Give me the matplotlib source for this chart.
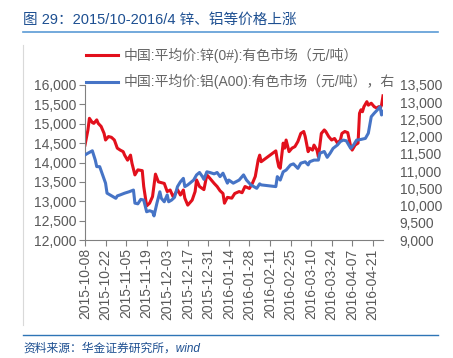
import matplotlib
matplotlib.use('Agg')
import matplotlib.pyplot as plt
import matplotlib.ticker as mticker
from matplotlib.lines import Line2D
import pandas as pd

# fontes: latim em Liberation Sans, chinês em Noto Sans CJK SC
plt.rcParams['font.family'] = ['Liberation Sans', 'Noto Sans CJK SC']

title = '图 29：2015/10-2016/4 锌、铝等价格上涨'
source = '资料来源：华金证券研究所，wind'
zinc_label = '中国:平均价:锌(0#):有色市场（元/吨）'
alu_label = '中国:平均价:铝(A00):有色市场（元/吨），右'

start_date = '2015-10-08'
end_date = '2016-04-28'
tick_dates = ['2015-10-08', '2015-10-22', '2015-11-05', '2015-11-19', '2015-12-03',
              '2015-12-17', '2015-12-31', '2016-01-14', '2016-01-28', '2016-02-11',
              '2016-02-25', '2016-03-10', '2016-03-24', '2016-04-07', '2016-04-21']

# dias contados a partir de start_date
zinc_days = [0, 2, 3, 5, 6, 8, 9, 11, 13, 14, 16, 18, 20, 22, 24, 26, 27, 29, 31, 32,
             34, 36, 39, 40, 42, 44, 46, 48, 50, 52, 54, 56, 58, 60, 61, 63, 65, 67, 68, 70,
             73, 75, 76, 78, 81, 83, 84, 86, 88, 90, 92, 94, 95, 97, 100, 102, 105, 107, 109, 112,
             114, 116, 118, 119, 120, 130, 131, 132, 133, 135, 136, 137, 139, 141, 143, 145, 147, 149, 150, 152,
             153, 155, 156, 158, 159, 161, 163, 164, 166, 168, 170, 172, 174, 175, 177, 179, 181, 182, 184, 186,
             187, 188, 189, 190, 192, 193, 195, 197, 199, 200, 201, 202, 203]
zinc = [14450, 14840, 15140, 15030, 15010, 15100, 15010, 14930, 14750, 14580, 14670, 14650, 14580, 14370, 14320, 14280, 14190, 14060, 14190, 13980,
        13680, 13810, 13790, 13380, 12880, 12950, 13120, 13700, 13500, 13480, 13460, 13250, 13290, 13120, 13160, 13300, 13160, 13290, 13080, 12900,
        13030, 13250, 13550, 13380, 13300, 13680, 13640, 13550, 13460, 13380, 13270, 13200, 12950, 13100, 13080, 13200, 13250, 13220, 13380, 13330,
        13460, 13640, 14070, 14190, 14020, 14300, 14070, 13890, 13850, 14500, 14370, 14580, 14280, 14370, 14410, 14540, 14750, 14800, 14670, 14280,
        14370, 14320, 14450, 14320, 14150, 14750, 14840, 14800, 14670, 14580, 14620, 14500, 14580, 14750, 14800, 14770, 14410, 14320, 14450, 14500,
        15270, 15360, 15310, 15440, 15570, 15480, 15530, 15440, 15400, 15440, 15400, 15480, 15720]

alu_days = [0, 2, 5, 7, 8, 10, 12, 14, 15, 17, 19, 21, 22, 24, 27, 30, 33, 34, 36, 38,
            40, 42, 44, 46, 47, 49, 51, 52, 54, 56, 57, 59, 61, 63, 65, 67, 68, 70, 74, 76,
            78, 80, 81, 83, 85, 88, 90, 92, 94, 97, 98, 101, 105, 108, 110, 113, 115, 117, 119, 120,
            130, 131, 133, 135, 137, 140, 142, 145, 147, 150, 152, 153, 156, 159, 160, 163, 165, 167, 169, 172,
            174, 176, 178, 181, 183, 185, 188, 191, 193, 195, 197, 199, 201, 202, 203]
alu = [11470, 11520, 11590, 11320, 11130, 11130, 10890, 10650, 10360, 10310, 10260, 10210, 10280, 10310, 10360, 10400, 10450, 10070, 10050, 10180,
       10160, 9820, 9850, 9820, 9700, 10070, 10400, 10210, 10110, 10310, 10110, 10160, 10240, 10550, 10690, 10790, 10550, 10600, 10740, 10890,
       10960, 10840, 10760, 10980, 10960, 10920, 10960, 10840, 10940, 10650, 10740, 10650, 10740, 10890, 10740, 10600, 10550, 10500, 10630, 10600,
       10550, 10840, 10740, 10980, 11030, 11180, 11210, 11080, 11230, 11270, 11180, 11270, 11320, 11320, 11520, 11570, 11400, 11520, 11660, 11760,
       11860, 11900, 11880, 11660, 11760, 11900, 11920, 11950, 12100, 12580, 12680, 12770, 12870, 12630, 12730]

t0 = pd.Timestamp(start_date)
zinc_x = t0 + pd.to_timedelta(zinc_days, unit='D')
alu_x = t0 + pd.to_timedelta(alu_days, unit='D')
ticks = pd.to_datetime(tick_dates)

W, H = 453, 358
fig = plt.figure(figsize=(W / 100, H / 100), dpi=100)
ax = fig.add_axes([85 / W, 1 - 240 / H, (383 - 85) / W, (240 - 85) / H])
ax2 = ax.twinx()

red = '#e2101c'
blue = '#4674c6'
grey = '#595959'

ax.plot(zinc_x, zinc, color=red, lw=2.2, solid_joinstyle='round', label=zinc_label)
ax2.plot(alu_x, alu, color=blue, lw=2.2, solid_joinstyle='round', label=alu_label)

ax.set_xlim(t0, pd.Timestamp(end_date))
ax.set_ylim(12000, 16000)
ax2.set_ylim(9000, 13500)
ax.yaxis.set_major_locator(mticker.MultipleLocator(500))
ax2.yaxis.set_major_locator(mticker.MultipleLocator(500))
fmt = mticker.FuncFormatter(lambda v, p: f'{v:,.0f}')
ax.yaxis.set_major_formatter(fmt)
ax2.yaxis.set_major_formatter(fmt)

ax.set_xticks(ticks)
ax.set_xticklabels(tick_dates, rotation=90)

for a in (ax, ax2):
    for s in ('top', 'right'):
        a.spines[s].set_visible(False)
ax2.spines['left'].set_visible(False)
ax2.spines['bottom'].set_visible(False)
ax.spines['left'].set_color('#808080')
ax.spines['bottom'].set_color('#808080')
ax.tick_params(axis='both', colors='#808080', labelcolor=grey, labelsize=10, length=4, width=0.8, pad=2)
ax2.tick_params(axis='y', labelcolor=grey, labelsize=10, length=0, pad=12)

handles = [Line2D([], [], color=red, lw=2.2), Line2D([], [], color=blue, lw=2.2)]
fig.legend(handles, [zinc_label, alu_label], loc='upper left',
           bbox_to_anchor=(86 / W, 1 - 48 / H), frameon=False, fontsize=10,
           labelcolor='#666666', handlelength=2.3, handletextpad=0.4, labelspacing=0.8,
           borderpad=0, borderaxespad=0)

# titulo, rodape e linhas decorativas
fig.text(23 / W, 1 - 20 / H, title, fontsize=10.5, color='#1d4f91', va='center', ha='left')
fig.add_artist(Line2D([23 / W, 438 / W], [1 - 32 / H, 1 - 32 / H], color='#5b9bd5', lw=1.2))
fig.add_artist(Line2D([23 / W, 23 / W], [1 - 45 / H, 1 - 325 / H], color='#d9d9d9', lw=0.8))
fig.add_artist(Line2D([23 / W, 438 / W], [1 - 335 / H, 1 - 335 / H], color='#2e75b6', lw=1.0))
fig.text(23 / W, 1 - 349 / H, source, fontsize=8.5, color='#1d4f91', style='italic', va='center', ha='left')

fig.savefig('out.png', dpi=100)
